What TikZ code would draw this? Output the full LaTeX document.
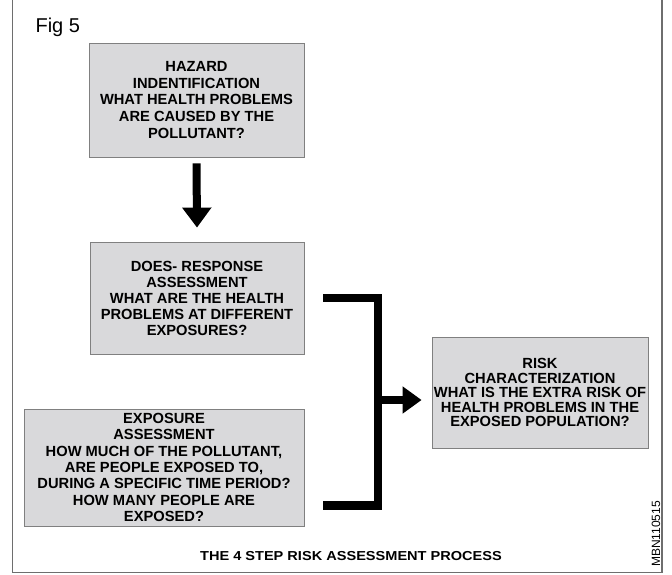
\documentclass[tikz,border=0pt]{standalone}
\usepackage{fontspec}
\setmainfont{Liberation Sans}
\newfontfamily\widefont[FakeStretch=1.12]{Liberation Sans}
\usetikzlibrary{arrows.meta}

\definecolor{boxfill}{HTML}{D9D9DB}
\definecolor{boxline}{HTML}{808080}
\definecolor{framecol}{HTML}{6E6E6E}

\tikzset{
  stepbox/.style={draw=boxline, fill=boxfill, line width=0.8pt,
    align=center, inner sep=0pt},
  boxtext/.style={font=\fontsize{14.7}{#1}\selectfont\bfseries},
  bar/.style={line width=8.5pt, black, line join=miter, line cap=butt},
  bigarrow/.style={line width=8pt, black,
    -{Triangle[width=28pt,length=20pt]}},
  sidearrow/.style={line width=8pt, black,
    -{Triangle[width=26pt,length=19pt]}},
}

\begin{document}
\begin{tikzpicture}[x=1pt,y=-1pt]
\useasboundingbox (0,0) rectangle (672,574);

% open frame round the figure
\draw[framecol, line width=1.2pt] (12.5,0) -- (12.5,572.5) -- (662,572.5) -- (662,0);

\node[anchor=base west, font=\fontsize{20}{24}\selectfont] (fig) at (32,32) {Fig 5};

% the four steps
\node[stepbox, boxtext=16.7, minimum width=215pt, minimum height=114pt] (haz) at (196.5,100)
  {HAZARD\\INDENTIFICATION\\WHAT HEALTH PROBLEMS\\ARE CAUSED BY THE\\POLLUTANT?};
\node[stepbox, boxtext=16, minimum width=214pt, minimum height=112pt] (dose) at (197,298)
  {DOES- RESPONSE\\ASSESSMENT\\WHAT ARE THE HEALTH\\PROBLEMS AT DIFFERENT\\EXPOSURES?};
\node[stepbox, boxtext=16.3, minimum width=280pt, minimum height=117pt] (expo) at (164,467.5)
  {EXPOSURE\\ASSESSMENT\\HOW MUCH OF THE POLLUTANT,\\ARE PEOPLE EXPOSED TO,\\DURING A SPECIFIC TIME PERIOD?\\HOW MANY PEOPLE ARE\\EXPOSED?};
\node[stepbox, boxtext=14.5, minimum width=216pt, minimum height=111pt] (risk) at (540,392.5)
  {RISK\\CHARACTERIZATION\\WHAT IS THE EXTRA RISK OF\\HEALTH PROBLEMS IN THE\\EXPOSED POPULATION?};

% hazard -> dose-response
\draw[bigarrow] ([yshift=-6pt]haz.south) -- ([yshift=14pt]dose.north);

% bracket joining the two assessments, then on to risk
\coordinate (brTop) at ([xshift=19pt]dose.east);
\coordinate (brBot) at (323,505.5);
\coordinate (brMid) at (378,400);
\draw[bar] (brTop) -| (brMid) |- (brBot);
\draw[sidearrow] ([xshift=-4pt]brMid) -- ([xshift=-10pt]brMid -| risk.west);

\node[anchor=base, font=\widefont\bfseries\fontsize{13}{15}\selectfont] (title) at (351,560.5)
  {THE 4 STEP RISK ASSESSMENT PROCESS};

\node[rotate=90, font=\fontsize{12}{14}\selectfont] (code) at (656,534) {MBN110515};
\end{tikzpicture}
\end{document}
